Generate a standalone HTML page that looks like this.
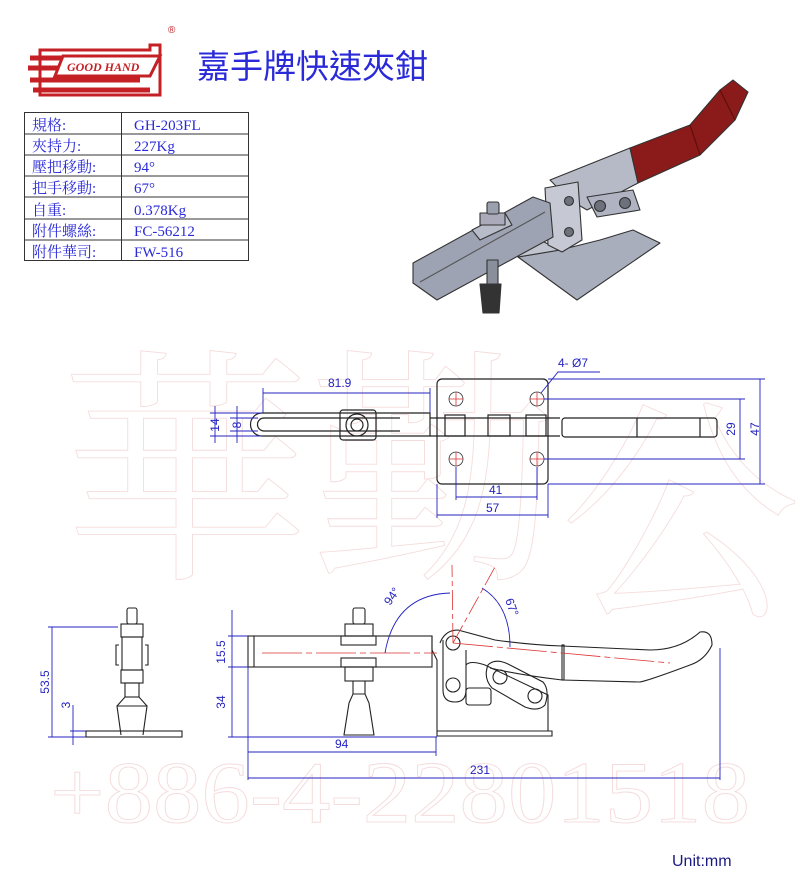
<!DOCTYPE html>
<html><head><meta charset="utf-8"><style>
html,body{margin:0;padding:0;background:#fff;}
svg{display:block;}
</style></head><body>
<svg width="800" height="891" viewBox="0 0 800 891" xmlns="http://www.w3.org/2000/svg" font-family="'Liberation Sans','Noto Sans CJK TC',sans-serif">
<!-- watermark -->
<g fill="none" stroke="#f5dcdc" stroke-width="0.9">
<text x="60" y="560" font-size="250" font-family="'Noto Serif CJK SC',serif">華勤</text>
<text x="560" y="600" font-size="240" font-family="'Noto Serif CJK SC',serif">公</text>
<text x="50" y="822" font-size="88" font-family="'Liberation Serif',serif" textLength="700" lengthAdjust="spacingAndGlyphs">+886-4-22801518</text>
</g>

<!-- logo -->
<g>
<path d="M40 50 H150 V45 H160 V95 H40 Z" fill="none" stroke="#c42026" stroke-width="3"/>
<path d="M30 58 H140 M28 68 H62 M30 80 H140 M33 90 H150" stroke="#c42026" stroke-width="5"/>
<path d="M63 56 H160 L150 76 H55 Z" fill="#fff" stroke="#c42026" stroke-width="3"/>
<text x="67" y="71" font-size="12" font-style="italic" font-weight="bold" fill="#c42026" font-family="'Liberation Serif',serif">GOOD HAND</text>
<text x="168" y="33" font-size="10" fill="#c42026">®</text>
</g>
<text x="197" y="78" font-size="33" fill="#2a2ad8" font-family="'Noto Sans CJK TC',sans-serif">嘉手牌快速夾鉗</text>

<!-- table -->
<g stroke="#333" stroke-width="1" fill="none">
<rect x="24.5" y="112.5" width="224" height="148"/>
<line x1="121.5" y1="112" x2="121.5" y2="261"/>
<line x1="24" y1="134" x2="249" y2="134"/><line x1="24" y1="155" x2="249" y2="155"/>
<line x1="24" y1="176" x2="249" y2="176"/><line x1="24" y1="197" x2="249" y2="197"/>
<line x1="24" y1="219" x2="249" y2="219"/><line x1="24" y1="240" x2="249" y2="240"/>
</g>
<g font-size="15" fill="#2a2ad8" font-family="'Liberation Serif','Noto Serif CJK SC',serif">
<text x="32" y="130">規格:</text><text x="134" y="130">GH-203FL</text>
<text x="32" y="151">夾持力:</text><text x="134" y="151">227Kg</text>
<text x="32" y="172">壓把移動:</text><text x="134" y="172">94°</text>
<text x="32" y="193">把手移動:</text><text x="134" y="193">67°</text>
<text x="32" y="215">自重:</text><text x="134" y="215">0.378Kg</text>
<text x="32" y="236">附件螺絲:</text><text x="134" y="236">FC-56212</text>
<text x="32" y="257">附件華司:</text><text x="134" y="257">FW-516</text>
</g>

<!-- 3D render approx -->
<g stroke="#333" stroke-width="1.1" stroke-linejoin="round">
<path d="M518 257 L577 300 L660 243 L633 230 L600 240 L560 250 Z" fill="#a9aebd"/>
<path d="M540 240 L560 250 L518 257 L525 245 Z" fill="#c0c4cf"/>
<path d="M550 180 L630 148 L638 183 L587 210 L570 200 Z" fill="#b6bac7"/>
<path d="M630 148 L690 125 L720 90 L733 80 L748 92 L735 120 L700 155 L638 183 Z" fill="#8b1a1a"/>
<path d="M690 125 L700 155 M720 90 L735 120" stroke="#5a0e0e" fill="none"/>
<path d="M545 188 L578 182 L582 240 L562 252 L548 245 Z" fill="#c6c9d3"/>
<path d="M413 263 L533 197 L550 203 L553 237 L437 300 L413 283 Z" fill="#9ea3b3"/>
<path d="M420 282 L545 212" stroke="#555" fill="none"/>
<path d="M587 197 L633 190 L640 210 L597 217 Z" fill="#b0b4c2"/>
<circle cx="600" cy="206" r="5.5" fill="#6d717c"/><circle cx="625" cy="203" r="5.5" fill="#6d717c"/>
<circle cx="569" cy="201" r="4.5" fill="#6d717c"/><circle cx="569" cy="232" r="4.5" fill="#6d717c"/>
<path d="M472 230 L505 213 L512 225 L480 240 Z" fill="#b8bcc8"/>
<rect x="480" y="213" width="25" height="12" fill="#aab"/>
<rect x="487" y="202" width="12" height="12" rx="2" fill="#9aa0ad"/>
<rect x="487" y="260" width="11" height="24" fill="#8a8f9c"/>
<path d="M480 284 L501 284 L499 313 L483 313 Z" fill="#333"/>
</g>

<!-- TOP VIEW -->
<g fill="none" stroke="#222" stroke-width="1.2">
<path d="M262 413 H430 V436 H262 A11.5 11.5 0 0 1 262 413 Z"/>
<path d="M264 418 H400 M264 431 H400"/><path d="M264 418 A6.5 6.5 0 0 0 264 431"/>
<rect x="340" y="410" width="36" height="30" rx="3"/>
<circle cx="357" cy="425" r="11"/><circle cx="357" cy="425" r="6"/>
<rect x="437" y="379" width="111" height="105" rx="5"/>
<rect x="445" y="415" width="20" height="21"/><rect x="488" y="415" width="22" height="21"/><rect x="526" y="415" width="20" height="21"/>
<path d="M430 418 H560 M430 436 H560"/>
<rect x="562" y="418" width="155" height="19" rx="3"/>
<path d="M637 418 V437 M700 418 V437"/>
</g>
<g stroke="#d33" stroke-width="0.8" fill="none">
<circle cx="456" cy="399" r="7" stroke="#333"/><circle cx="537" cy="399" r="7" stroke="#333"/>
<circle cx="456" cy="459" r="7" stroke="#333"/><circle cx="537" cy="459" r="7" stroke="#333"/>
<path d="M449 399h14M456 392v14M530 399h14M537 392v14M449 459h14M456 452v14M530 459h14M537 452v14"/>
</g>
<g stroke="#2323c0" stroke-width="0.9" fill="none">
<path d="M263 388 V413 M430 388 V413 M263 393 H430"/>
<path d="M210 413 H262 M210 436 H262 M215 406 V443 M237 406 V443 M230 418 H258 M230 431 H258"/>
<path d="M544 399 H745 M544 459 H745 M740 399 V459 M548 379 H765 M548 484 H765 M760 379 V484"/>
<path d="M456 467 V500 M537 467 V500 M456 497 H537 M437 484 V518 M548 484 V518 M437 515 H548"/>
<path d="M600 372 H558 L541 393"/>
</g>
<g fill="#2323c0" font-size="12">
<text x="328" y="387">81.9</text>
<text x="212" y="432" transform="rotate(-90 212 425)" text-anchor="middle">14</text>
<text x="234" y="432" transform="rotate(-90 234 425)" text-anchor="middle">8</text>
<text x="730" y="434" transform="rotate(-90 730 429)" text-anchor="middle">29</text>
<text x="754" y="434" transform="rotate(-90 754 429)" text-anchor="middle">47</text>
<text x="489" y="494">41</text><text x="486" y="512">57</text>
<text x="558" y="367">4- Ø7</text>
</g>

<!-- LEFT SIDE VIEW -->
<g fill="none" stroke="#222" stroke-width="1.1">
<rect x="86" y="731" width="96" height="6"/>
<path d="M121 735 L117 706 L147 706 L143 735"/>
<path d="M117 706 L125 697 L139 697 L147 706"/>
<rect x="125" y="683" width="14" height="14"/>
<rect x="121" y="670" width="22" height="13"/>
<rect x="122" y="637" width="20" height="33"/>
<rect x="121" y="624" width="22" height="13"/>
<rect x="127" y="608" width="10" height="16" rx="2"/>
<path d="M119 645 h-3 v20 h3 M145 645 h3 v20 h-3"/>
</g>
<g stroke="#2323c0" stroke-width="0.9" fill="none"><path d="M48 627 H118 M52 627 V737 M48 737 H86 M73 705 V745 M70 731 H86"/></g>
<g fill="#2323c0" font-size="12">
<text x="52" y="682" transform="rotate(-90 52 682)" text-anchor="middle" dy="-3">53.5</text>
<text x="70" y="705" transform="rotate(-90 70 705)" text-anchor="middle">3</text>
</g>

<!-- MAIN SIDE VIEW -->
<g fill="none" stroke="#222" stroke-width="1.1">
<rect x="248" y="636" width="184" height="31"/>
<path d="M254 636 V667"/>
<rect x="341" y="636" width="35" height="9"/><rect x="341" y="658" width="35" height="9"/>
<rect x="345" y="624" width="28" height="12"/><rect x="353" y="608" width="12" height="16" rx="2"/>
<rect x="345" y="667" width="28" height="14"/>
<path d="M353 681 V694 M365 681 V694 M349 703 L353 694 H365 L369 703 L374 735 H344 Z"/>
<path d="M432 636 V650 L437 660 V731 M437 731 H552 V736 H437 Z"/>
<path d="M440 643 Q445 630 458 630 L495 640 Q530 645 562 646 L650 650 Q680 650 700 632 Q712 630 712 645 Q705 660 690 665 Q650 680 640 682 L562 680 Q520 675 490 668"/>
<rect x="562" y="645" width="2" height="35"/>
<path d="M443 640 V690 Q443 702 455 702 Q466 702 466 690 V650"/>
<circle cx="453" cy="643" r="7"/><circle cx="453" cy="685" r="7"/>
<path d="M466 665 Q470 660 485 665 L548 695 V731"/>
<path d="M488 665 Q495 658 508 664 L543 682 Q550 690 545 705 Q538 712 525 707 L492 688 Q483 678 488 665 Z"/>
<circle cx="500" cy="677" r="7"/><circle cx="535" cy="696" r="7"/>
<rect x="466" y="688" width="25" height="17" rx="3"/>
</g>
<g stroke="#d33" stroke-width="0.8" fill="none">
<path d="M262 653 H432 L437 653" stroke-dasharray="40 4 6 4"/>
<path d="M453 643 L452 565" stroke-dasharray="20 4 5 4"/>
<path d="M453 643 L495 567" stroke-dasharray="20 4 5 4"/>
<path d="M453 643 L670 663" stroke-dasharray="40 4 6 4"/>
</g>
<g stroke="#2323c0" stroke-width="0.9" fill="none">
<path d="M385 653 Q395 595 450 593"/>
<path d="M482 588 Q510 605 510 647"/>
<path d="M228 636 H248 M228 667 H248 M232 610 V737 M228 737 H437"/>
<path d="M248 667 V780 M436 737 V756 M248 752 H436 M720 648 V780 M248 778 H720"/>
</g>
<g fill="#2323c0" font-size="12">
<text x="225" y="652" transform="rotate(-90 225 652)" text-anchor="middle">15.5</text>
<text x="225" y="702" transform="rotate(-90 225 702)" text-anchor="middle">34</text>
<text x="335" y="748">94</text><text x="470" y="774">231</text>
<text x="390" y="606" transform="rotate(-55 390 606)">94°</text>
<text x="505" y="600" transform="rotate(70 505 600)">67°</text>
<text x="672" y="866" font-size="16" fill="#1a1a80">Unit:mm</text>
</g>
</svg>
</body></html>
